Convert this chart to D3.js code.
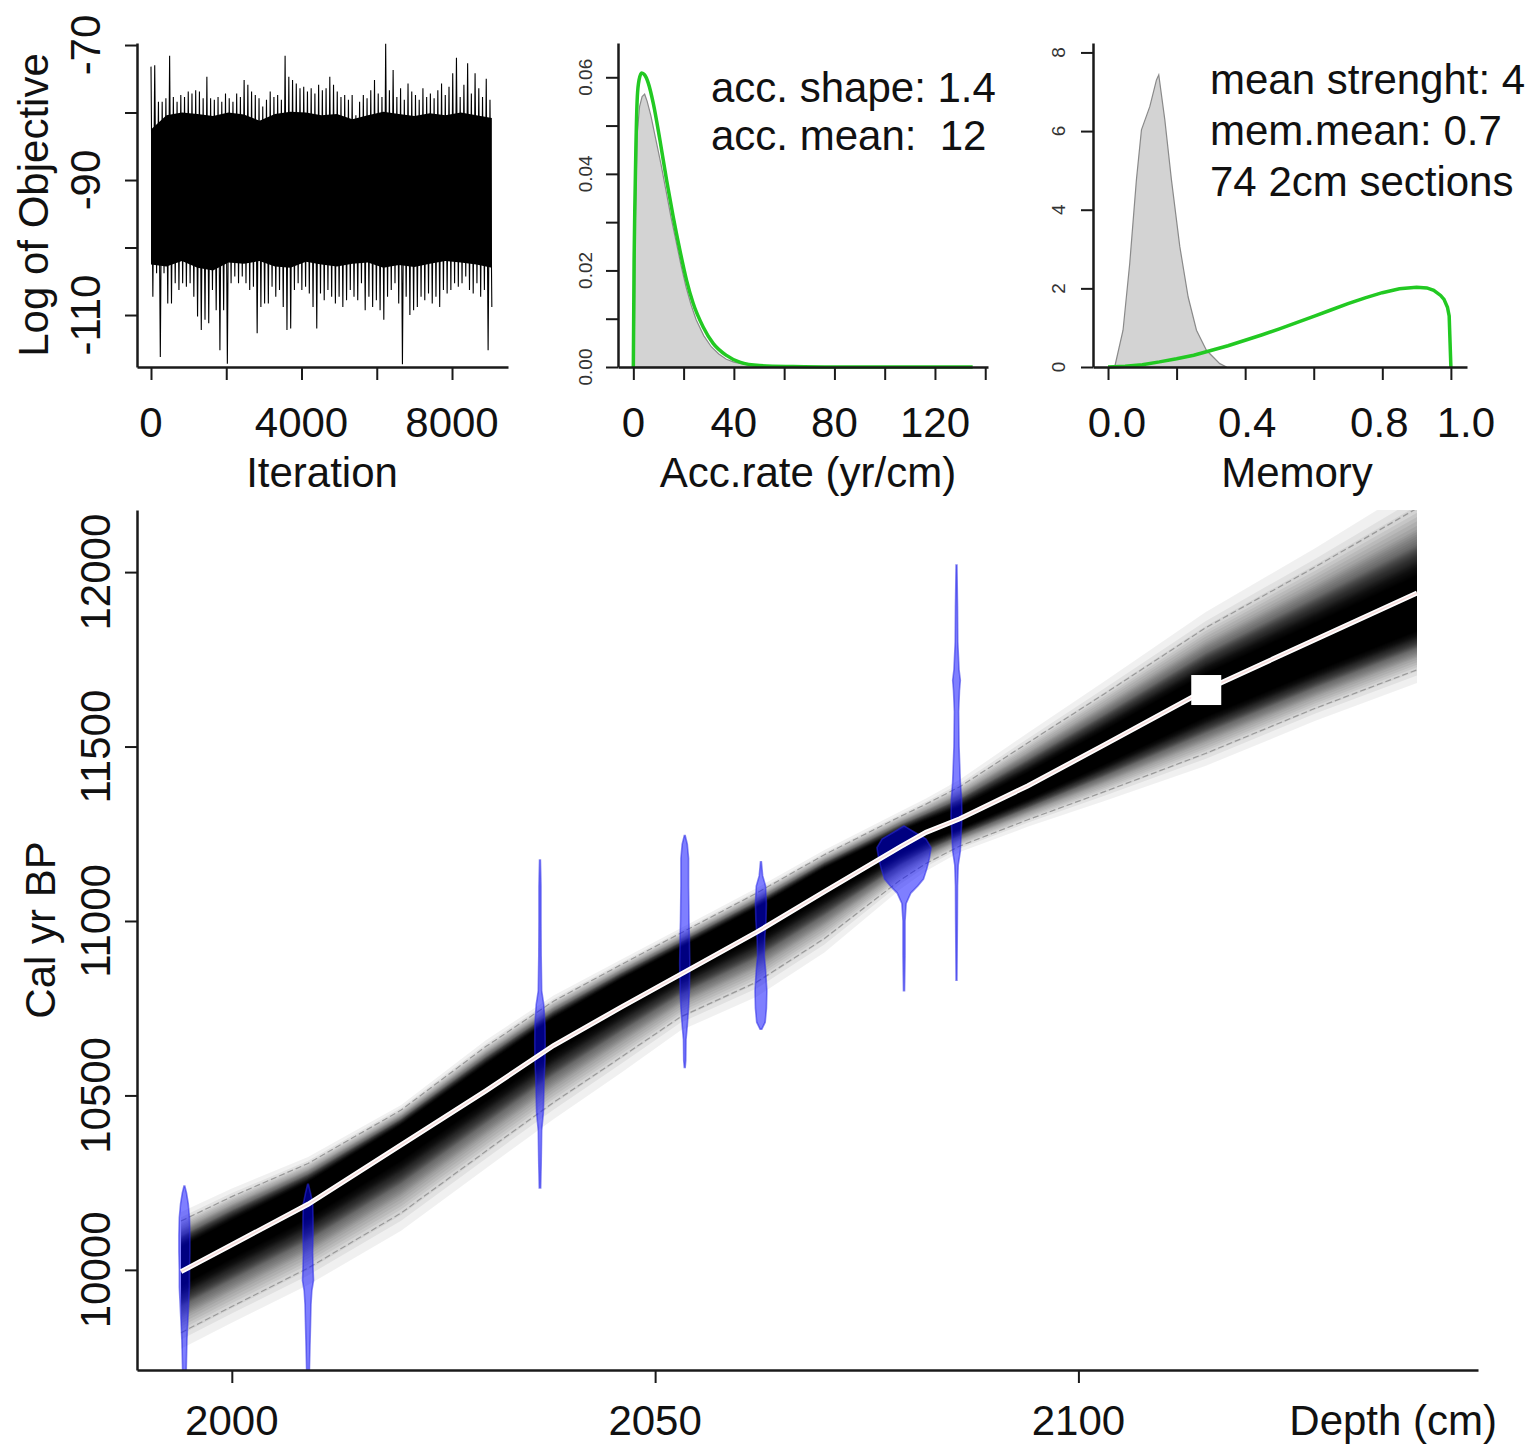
<!DOCTYPE html>
<html lang="en">
<head>
<meta charset="UTF-8">
<title>Bacon age-depth model</title>
<script src="https://d3js.org/d3.v7.min.js"></script>
<style>
  body { margin: 0; background: #fff; }
  svg text { font-family: "Liberation Sans", Arial, Helvetica, sans-serif; fill: #111; }
  .axis path { stroke: #1a1a1a; stroke-width: 2.5px; }
  .axis line { stroke: #1a1a1a; stroke-width: 2px; }
  .big { font-size: 42px; }
  .tiny { font-size: 19px; fill: #333; }
</style>
</head>
<body>
<svg id="chart" width="1536" height="1446"></svg>
<script>
// ---------- data ----------

// MCMC trace, summarised as max / min of each block of iterations
const traceBinSize = 99;
const traceMax = [
  -73.2, -73.0, -78.4, -78.4, -77.9, -71.6, -77.7, -78.4, -77.4, -77.7,
  -76.9, -77.2, -76.7, -76.9, -77.9, -74.7, -77.9, -78.1, -77.7, -78.4,
  -77.2, -77.9, -78.4, -77.2, -77.7, -75.2, -75.9, -76.9, -77.4, -77.9,
  -79.1, -78.1, -76.9, -77.7, -77.4, -78.1, -71.6, -74.7, -75.2, -75.7,
  -76.4, -76.2, -76.9, -76.4, -77.2, -75.9, -76.7, -76.4, -74.7, -75.9,
  -76.9, -77.7, -77.4, -78.1, -77.4, -80.4, -78.4, -77.4, -77.9, -76.7,
  -75.2, -77.2, -77.7, -69.8, -76.7, -73.7, -77.7, -76.4, -78.1, -75.7,
  -76.9, -77.4, -78.1, -76.4, -77.7, -77.2, -77.9, -76.7, -75.7, -77.4,
  -76.2, -74.2, -71.9, -77.7, -75.9, -72.7, -77.2, -74.2, -76.4, -77.7,
  -75.0, -78.1
];
const traceMin = [
  -107.3, -103.8, -116.2, -103.8, -108.3, -108.3, -105.3, -106.3, -105.3, -105.8,
  -105.3, -107.3, -110.2, -112.2, -110.7, -111.2, -106.3, -109.3, -115.2, -109.3,
  -117.2, -105.3, -104.3, -105.3, -104.3, -105.3, -106.3, -105.8, -112.7, -108.8,
  -108.3, -108.3, -105.8, -107.3, -106.3, -108.8, -112.2, -112.0, -106.3, -105.3,
  -106.3, -105.8, -106.8, -108.8, -112.0, -106.8, -107.8, -106.3, -107.3, -108.3,
  -107.3, -108.8, -107.8, -106.3, -107.3, -107.8, -105.3, -109.3, -107.3, -108.8,
  -107.8, -109.3, -110.7, -107.3, -106.3, -105.3, -108.3, -117.3, -107.3, -110.0,
  -109.3, -108.8, -107.3, -107.8, -106.8, -108.3, -107.3, -108.8, -106.3, -106.8,
  -106.3, -105.3, -105.8, -105.3, -104.3, -106.3, -106.8, -105.3, -107.3, -106.3,
  -115.2, -108.8
];
// solid part of the trace, evenly spread over the run
const traceCoreHi = [-82.5, -80.4, -80.0, -80.2, -80.5, -80.0, -80.3, -81.2, -80.2, -79.9, -80.0, -80.4,
                     -80.2, -81.0, -80.4, -79.9, -80.2, -80.5, -80.1, -80.4, -80.0, -80.4, -80.8];
const traceCoreLo = [-102.5, -102.8, -102.0, -103.0, -103.4, -102.2, -102.4, -102.0, -102.8, -103.0, -102.1, -102.5,
                     -102.8, -102.4, -102.2, -103.0, -102.6, -102.9, -102.4, -102.0, -102.2, -102.5, -103.0];
const iterTicks = [0, 2000, 4000, 6000, 8000];
const iterLabels = [0, 4000, 8000];
const objTicks = [-70, -80, -90, -100, -110];
const objLabels = [-70, -90, -110];

// accumulation rate: posterior (grey) and prior (green)
const accPostX = [0.3, 0.8, 1.5, 2.5, 3.5, 4.5, 5.5, 7, 9, 11, 13, 15, 17, 19, 21, 23, 25, 28, 31, 34, 37, 40, 45, 50, 56];
const accPostY = [0, 0.03, 0.048, 0.054, 0.056, 0.0565, 0.055, 0.052, 0.047, 0.042, 0.0365, 0.031, 0.026, 0.021, 0.0165, 0.0128, 0.0098, 0.0065, 0.0042, 0.0027, 0.0016, 0.001, 0.0005, 0.0002, 0];
const accPriorX = [0, 0.3, 0.67, 1.0, 1.59, 2.3, 3.31, 4.5, 5.95, 7.94, 10.58, 13.23, 15.87, 18.52, 21.16, 23.8, 27.78, 31.75, 37.04, 42.33, 50.26, 63.5, 80, 100, 120, 135];
const accPriorY = [0, 0.022, 0.0353, 0.045, 0.056, 0.0595, 0.0609, 0.0605, 0.0588, 0.0546, 0.047, 0.0387, 0.0311, 0.0242, 0.018, 0.0132, 0.0083, 0.0049, 0.0024, 0.001, 0.0003, 0.0001, 0, 0, 0, 0];
const accTicksX = [0, 20, 40, 60, 80, 100, 120, 140];
const accLabelsX = [0, 40, 80, 120];
const accTicksY = [0, 0.01, 0.02, 0.03, 0.04, 0.05, 0.06];
const accLabelsY = [0, 0.02, 0.04, 0.06];
const accText = ["acc. shape: 1.4", "acc. mean:  12"];

// memory: posterior (grey) and prior (green)
const memPostX = [0.0195, 0.0438, 0.0633, 0.0828, 0.0975, 0.1218, 0.1413, 0.148, 0.1656, 0.185, 0.2094, 0.2337, 0.258, 0.287, 0.326, 0.346];
const memPostY = [0, 0.935, 2.63, 4.76, 6.03, 6.62, 7.30, 7.43, 6.29, 4.76, 3.06, 1.78, 0.935, 0.425, 0.085, 0];
const memPriorX = [0, 0.05, 0.1, 0.15, 0.2, 0.25, 0.3, 0.35, 0.4, 0.45, 0.5, 0.55, 0.6, 0.65, 0.7, 0.75, 0.8, 0.85, 0.9, 0.93, 0.95, 0.97, 0.98, 0.99, 0.995, 1.0];
const memPriorY = [0, 0.02, 0.06, 0.13, 0.21, 0.3, 0.42, 0.54, 0.68, 0.82, 0.97, 1.13, 1.29, 1.45, 1.61, 1.76, 1.89, 1.99, 2.03, 2.01, 1.95, 1.82, 1.72, 1.52, 1.3, 0];
const memTicksX = [0, 0.2, 0.4, 0.6, 0.8, 1.0];
const memLabelsX = [0, 0.4, 0.8, 1.0];
const memTicksY = [0, 2, 4, 6, 8];
const memText = ["mean strenght: 4", "mem.mean: 0.7", "74 2cm sections"];

// age-depth model: mean, most likely (darkest) age, 95% range
const modelDepth = [1994, 2000, 2009, 2020, 2030, 2038, 2046, 2053, 2062, 2070, 2079, 2082, 2086, 2094, 2103, 2115, 2128, 2140];
const modelMean  = [9995, 10072, 10188, 10358, 10513, 10643, 10753, 10847, 10968, 11084, 11213, 11254, 11293, 11387, 11504, 11662, 11807, 11940];
const modelMode  = [10025, 10105, 10222, 10392, 10560, 10695, 10810, 10900, 11015, 11130, 11235, 11262, 11293, 11380, 11490, 11640, 11772, 11890];
const modelHi    = [10140, 10210, 10305, 10458, 10640, 10770, 10875, 10965, 11080, 11190, 11300, 11335, 11385, 11510, 11650, 11840, 12015, 12183];
const modelLo    = [9820, 9895, 10005, 10163, 10340, 10480, 10610, 10725, 10825, 10950, 11118, 11165, 11215, 11290, 11370, 11480, 11610, 11720];
const depthTicks = [2000, 2050, 2100];
const ageTicks = [10000, 10500, 11000, 11500, 12000];

// calibrated dates: depth, ages and half-widths (cm) of their probability shapes
const dateDepths = [1994.4, 2009.0, 2036.4, 2053.5, 2062.5, 2079.4, 2085.6];
const dateAges = [
  [10240, 10220, 10190, 10150, 10100, 10050, 10000, 9950, 9900, 9850, 9800, 9750, 9700],
  [10245, 10220, 10190, 10150, 10100, 10050, 10000, 9970, 9940, 9900, 9850, 9800, 9750, 9700],
  [11175, 11100, 11000, 10900, 10800, 10760, 10700, 10650, 10600, 10550, 10500, 10450, 10400, 10300, 10235],
  [11245, 11220, 11180, 11100, 11000, 10950, 10880, 10800, 10750, 10700, 10660, 10600, 10580],
  [11170, 11130, 11100, 11050, 11000, 10950, 10900, 10860, 10800, 10750, 10710, 10690],
  [11272, 11255, 11235, 11210, 11180, 11150, 11120, 11100, 11080, 11050, 11000, 10900, 10800],
  [12020, 11900, 11800, 11720, 11690, 11660, 11600, 11500, 11400, 11350, 11300, 11250, 11200, 11160, 11100, 11000, 10830]
];
const dateWidths = [
  [0.05, 0.25, 0.45, 0.6, 0.65, 0.65, 0.6, 0.6, 0.5, 0.4, 0.3, 0.25, 0.2],
  [0.05, 0.3, 0.55, 0.6, 0.6, 0.55, 0.6, 0.65, 0.45, 0.35, 0.3, 0.25, 0.2, 0.15],
  [0.05, 0.12, 0.12, 0.14, 0.2, 0.45, 0.6, 0.62, 0.6, 0.5, 0.45, 0.4, 0.2, 0.14, 0.08],
  [0.05, 0.3, 0.45, 0.45, 0.5, 0.55, 0.6, 0.55, 0.45, 0.3, 0.15, 0.12, 0.05],
  [0.05, 0.2, 0.55, 0.65, 0.6, 0.45, 0.4, 0.55, 0.7, 0.65, 0.5, 0.1],
  [0.05, 1.2, 2.6, 3.2, 3.0, 2.7, 2.3, 1.6, 0.8, 0.25, 0.12, 0.12, 0.06],
  [0.05, 0.12, 0.15, 0.3, 0.45, 0.35, 0.25, 0.3, 0.45, 0.6, 0.65, 0.55, 0.45, 0.2, 0.12, 0.1, 0.05]
];
const markerDepth = [2115.1];
const markerAge = [11662];

// ---------- drawing ----------
const svg = d3.select("#chart");
svg.append("rect").attr("width", 1536).attr("height", 1446).attr("fill", "#fff");

function axisBottom(scale, y, ticks) {
  svg.append("g").attr("class", "axis").attr("transform", `translate(0,${y})`)
    .call(d3.axisBottom(scale).tickValues(ticks).tickSize(13).tickSizeOuter(0).tickFormat(""));
}
function axisLeft(scale, x, ticks) {
  svg.append("g").attr("class", "axis").attr("transform", `translate(${x},0)`)
    .call(d3.axisLeft(scale).tickValues(ticks).tickSize(12).tickSizeOuter(0).tickFormat(""));
}
function labelsBottom(scale, y, vals, fmt, nudge) {
  svg.append("g").selectAll("text").data(vals).join("text")
    .attr("class", "big").attr("x", (d, i) => scale(d) + (nudge ? nudge[i] : 0))
    .attr("y", y).attr("dy", "0.35em")
    .attr("text-anchor", "middle").text(fmt);
}
function labelsLeft(scale, cx, vals, fmt, cls) {
  svg.append("g").selectAll("text").data(vals).join("text")
    .attr("class", cls)
    .attr("transform", d => `translate(${cx},${scale(d)}) rotate(-90)`)
    .attr("dy", "0.35em").attr("text-anchor", "middle").text(fmt);
}
function title(text, x, y, rotate) {
  svg.append("text").attr("class", "big")
    .attr("transform", `translate(${x},${y})` + (rotate ? " rotate(-90)" : ""))
    .attr("dy", "0.35em").attr("text-anchor", "middle").text(text);
}
function noteLines(lines, x, y0, step) {
  svg.append("g").selectAll("text").data(lines).join("text")
    .attr("class", "big").attr("x", x).attr("y", (d, i) => y0 + i * step)
    .style("white-space", "pre").text(d => d);
}

// ----- panel 1: log of objective -----
const xIt = d3.scaleLinear().domain([-372, 9488]).range([137, 508]);
const yObj = d3.scaleLinear().domain([-117.7, -69.7]).range([367, 43]);

const traceEnd = (traceMax.length - 0.5) * traceBinSize;
const coreRows = traceCoreHi.map((h, i) => ({ it: i / (traceCoreHi.length - 1) * traceEnd, h, l: traceCoreLo[i] }));
svg.append("path").datum(coreRows)
  .attr("d", d3.area().x(r => xIt(r.it)).y0(r => yObj(r.l)).y1(r => yObj(r.h)))
  .attr("fill", "#000");
const tracePts = [];
traceMax.forEach((v, i) => {
  tracePts.push([i * traceBinSize, v]);
  tracePts.push([(i + 0.5) * traceBinSize, traceMin[i]]);
});
svg.append("path").datum(tracePts)
  .attr("d", d3.line().x(d => xIt(d[0])).y(d => yObj(d[1])))
  .attr("fill", "none").attr("stroke", "#000").attr("stroke-width", 1.1);

axisBottom(xIt, 367, iterTicks);
axisLeft(yObj, 137, objTicks);
labelsBottom(xIt, 422, iterLabels, d => d);
labelsLeft(yObj, 85, objLabels, d => d, "big");
title("Iteration", 322, 472);
title("Log of Objective", 33, 205, true);

// ----- panel 2: accumulation rate -----
const xAcc = d3.scaleLinear().domain([-6.1, 141.1]).range([618, 988]);
const yAcc = d3.scaleLinear().domain([0, 0.0671]).range([367, 43]);

svg.append("path").datum(accPostX.map((x, i) => [x, accPostY[i]]))
  .attr("d", d3.area().x(d => xAcc(d[0])).y0(yAcc(0)).y1(d => yAcc(d[1])))
  .attr("fill", "#d3d3d3").attr("stroke", "#8a8a8a").attr("stroke-width", 1.2);
svg.append("path").datum(accPriorX.map((x, i) => [x, accPriorY[i]]))
  .attr("d", d3.line().x(d => xAcc(d[0])).y(d => yAcc(d[1])).curve(d3.curveMonotoneX))
  .attr("fill", "none").attr("stroke", "#22c922").attr("stroke-width", 3.5);

axisBottom(xAcc, 367, accTicksX);
axisLeft(yAcc, 618, accTicksY);
labelsBottom(xAcc, 422, accLabelsX, d => d);
labelsLeft(yAcc, 585, accLabelsY, d => d3.format(".2f")(d), "tiny");
title("Acc.rate (yr/cm)", 808, 472);
noteLines(accText, 711, 102, 48);

// ----- panel 3: memory -----
const xMem = d3.scaleLinear().domain([-0.0438, 1.047]).range([1093, 1467]);
const yMem = d3.scaleLinear().domain([0, 8.24]).range([367, 43]);

svg.append("path").datum(memPostX.map((x, i) => [x, memPostY[i]]))
  .attr("d", d3.area().x(d => xMem(d[0])).y0(yMem(0)).y1(d => yMem(d[1])))
  .attr("fill", "#d3d3d3").attr("stroke", "#8a8a8a").attr("stroke-width", 1.2);
svg.append("path").datum(memPriorX.map((x, i) => [x, memPriorY[i]]))
  .attr("d", d3.line().x(d => xMem(d[0])).y(d => yMem(d[1])))
  .attr("fill", "none").attr("stroke", "#22c922").attr("stroke-width", 3.5);

axisBottom(xMem, 367, memTicksX);
axisLeft(yMem, 1093, memTicksY);
labelsBottom(xMem, 422, memLabelsX, d => d3.format(".1f")(d), [9, 2, -3, 15]);
labelsLeft(yMem, 1058, memTicksY, d => d, "tiny");
title("Memory", 1297, 472);
noteLines(memText, 1210, 94, 51);

// ----- main panel: age-depth model -----
const xD = d3.scaleLinear().domain([1988.8, 2147.2]).range([137, 1478]);
const yA = d3.scaleLinear().domain([9713, 12178]).range([1370, 510]);

svg.append("clipPath").attr("id", "mainClip").append("rect")
  .attr("x", 137).attr("y", 510).attr("width", 1341).attr("height", 860);
const main = svg.append("g").attr("clip-path", "url(#mainClip)");

// grey-scale density: nested bands around the darkest age, fading toward the 95% range
const shadeZ = [0.32, 0.48, 0.64, 0.8, 0.96, 1.12, 1.3];
const shadeD = [0.97, 0.84, 0.58, 0.36, 0.19, 0.07, 0.0];
const alpha = 0.06;
const shadeN = shadeD.map(d => Math.log(1 - d) / Math.log(1 - alpha));
const nToZ = d3.scaleLinear().domain(shadeN).range(shadeZ);
const layers = d3.range(1, Math.ceil(shadeN[0]) + 1).map(k => nToZ(k - 0.5));
const modelRows = modelDepth.map((d, i) => ({
  d, m: modelMean[i], c: modelMode[i], lo: modelLo[i], hi: modelHi[i]
}));
main.append("g").selectAll("path").data(layers).join("path")
  .attr("d", f => d3.area()
    .x(r => xD(r.d))
    .y0(r => yA(r.c - f * (r.c - r.lo)))
    .y1(r => yA(r.c + f * (r.hi - r.c)))(modelRows))
  .attr("fill", "#000").attr("fill-opacity", alpha);

// 95% range lines
["lo", "hi"].forEach(k => {
  main.append("path").datum(modelRows)
    .attr("d", d3.line().x(r => xD(r.d)).y(r => yA(r[k])))
    .attr("fill", "none").attr("stroke", "#999").attr("stroke-width", 1.2)
    .attr("stroke-dasharray", "6 3");
});

// calibrated dates
dateDepths.forEach((dep, j) => {
  const pts = dateAges[j].map((a, i) => [a, dateWidths[j][i]]);
  main.append("path").datum(pts)
    .attr("d", d3.area().y(p => yA(p[0])).x0(p => xD(dep - p[1])).x1(p => xD(dep + p[1])))
    .attr("fill", "rgba(0,0,255,0.5)").attr("stroke", "rgba(40,40,230,0.55)").attr("stroke-width", 1.6);
});

// mean age line
main.append("path").datum(modelRows)
  .attr("d", d3.line().x(r => xD(r.d)).y(r => yA(r.m)))
  .attr("fill", "none").attr("stroke", "#fff").attr("stroke-width", 5);
main.append("path").datum(modelRows)
  .attr("d", d3.line().x(r => xD(r.d)).y(r => yA(r.m)))
  .attr("fill", "none").attr("stroke", "rgba(220,90,90,0.22)").attr("stroke-width", 1.5);

// marker
main.selectAll("rect.marker").data(markerDepth).join("rect").attr("class", "marker")
  .attr("x", d => xD(d) - 15).attr("y", (d, i) => yA(markerAge[i]) - 15)
  .attr("width", 30).attr("height", 30).attr("fill", "#fff");

axisBottom(xD, 1370, depthTicks);
axisLeft(yA, 137, ageTicks);
labelsBottom(xD, 1420, depthTicks, d => d);
labelsLeft(yA, 95, ageTicks, d => d, "big");
svg.append("text").attr("class", "big").attr("x", 1497).attr("y", 1420).attr("dy", "0.35em")
  .attr("text-anchor", "end").text("Depth (cm)");
title("Cal yr BP", 40, 930, true);
</script>
</body>
</html>
